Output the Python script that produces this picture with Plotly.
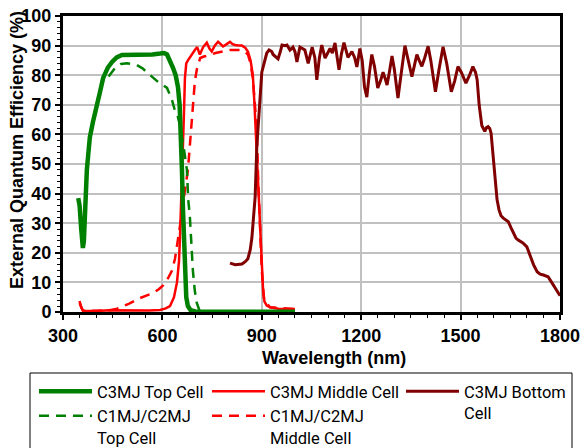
import plotly.graph_objects as go

# ---------------- data ----------------
top_c3_x = [346, 350, 355, 360, 363, 367, 372, 376, 381, 390, 397, 403, 412, 421, 435, 448, 462, 478, 500,
            541, 570, 593, 605, 614, 625, 632, 640, 647, 652, 656, 659, 662, 665, 668, 672, 677, 685, 700,
            750, 850, 1000]
top_c3_y = [38.5, 36, 28, 21.6, 24, 37, 48, 53, 59, 64, 67, 71, 74.5, 79, 82.5, 84.5, 86, 86.8, 86.8,
            86.8, 87, 87.3, 87.5, 87, 84.5, 82.5, 80, 76, 70, 61.5, 48, 35, 22, 12, 5, 2, 0.6, 0.2,
            0.1, 0.1, 0.1]

top_c1_x = [380, 390, 403, 412, 421, 437, 457, 475, 493, 510, 523, 540, 553, 570, 587, 600, 614, 629, 638,
            644, 653, 665, 674, 678, 683, 688, 692, 698, 704, 712, 750, 850, 1000]
top_c1_y = [58, 64, 71, 74.5, 78, 79.5, 82.4, 83.8, 84, 83.8, 83.4, 82.3, 81, 79.5, 77.7, 76.8, 75.7, 71.6, 68,
            67.2, 63, 55, 48, 38, 32, 22, 14, 7, 3, 0.5, 0.1, 0.1, 0.1]

mid_c3_x = [350, 355, 361, 400, 440, 480, 520, 560, 593, 610, 623, 635, 644, 650, 653, 657, 660, 663, 665,
            668, 672, 677, 688, 698, 705, 713, 723, 734, 742, 749, 758, 768, 776, 783, 794, 804, 812, 819,
            830, 840, 850, 858, 866, 873, 878, 882, 886, 889, 893, 897, 900, 904, 908, 915, 925, 950, 1000]
mid_c3_y = [3.7, 1.5, 0.3, 0.3, 0.6, 0.5, 0.4, 0.5, 0.7, 1.2, 2, 5, 10, 17, 25, 37, 48, 60, 67,
            79, 84, 85, 87, 88.5, 89.5, 87, 89.5, 91, 89, 88, 90, 91.3, 90.5, 89.7, 90.5, 91.3, 90.5, 90.2,
            90, 90, 89.3, 88, 85, 80, 70, 60, 50, 42, 33, 22, 14, 7, 3.5, 2.2, 1.6, 1.1, 1.0]

mid_c1_x = [350, 360, 400, 440, 460, 480, 500, 532, 550, 572, 590, 602, 615, 629, 638, 644, 653, 660, 668,
            677, 682, 686, 693, 698, 704, 714, 725, 744, 760, 774, 790, 804, 820, 834, 848, 858, 866, 873,
            880, 885, 889, 895, 900, 907, 925, 1000]
mid_c1_y = [3.0, 0.5, 0.4, 0.6, 1.0, 1.8, 2.8, 4.7, 5.5, 6.4, 7.8, 9, 11, 14, 18, 22, 29, 35, 41,
            48, 55, 61.5, 72.6, 78, 82, 85.8, 86.3, 86.8, 87.5, 87.8, 88.3, 88.5, 88.5, 88.5, 88, 87, 84, 79,
            69, 61, 45, 31, 14, 4, 1.6, 1.0]

bot_c3_x = [804, 820, 840, 850, 858, 865, 870, 875, 880, 885, 890, 895, 900, 904, 910, 915, 922, 930, 934,
            940, 949, 956, 961, 970, 976, 985, 994, 1000, 1006, 1015, 1024, 1030, 1040, 1052, 1060, 1066,
            1074, 1081, 1091, 1098, 1106, 1113, 1121, 1133, 1140, 1148, 1160, 1166, 1172, 1180, 1187, 1196,
            1203, 1210, 1217, 1225, 1232, 1240, 1250, 1258, 1266, 1272, 1278, 1285, 1293, 1300, 1311, 1320,
            1332, 1342, 1353, 1360, 1368, 1375, 1383, 1392, 1402, 1410, 1424, 1435, 1447, 1458, 1472, 1482,
            1492, 1502, 1516, 1527, 1537, 1545, 1550, 1556, 1560, 1564, 1573, 1578, 1583, 1588, 1592, 1598,
            1604, 1610, 1616, 1622, 1629, 1637, 1644, 1652, 1659, 1667, 1674, 1688, 1700, 1710, 1720, 1731,
            1740, 1750, 1764, 1772, 1779, 1787, 1795, 1800]
bot_c3_y = [16.5, 16, 16.2, 17, 18, 21, 25, 31, 39, 56, 66, 72.6, 81, 83, 86, 87.5, 88.5, 88, 87,
            86.5, 85.5, 88, 90.2, 90, 90.2, 88.5, 89.5, 88, 84.5, 89.5, 89, 88.5, 84, 89.5, 86, 78.4,
            86, 90.2, 85.8, 87.5, 89, 87.5, 90.9, 81.8, 87, 91, 86, 87, 88, 86, 82.8, 89,
            85, 76, 72.6, 81, 87, 83, 75.7, 78, 81, 79, 76.7, 81, 86.5, 82, 72.3, 80,
            90, 85, 79.5, 83, 87, 85, 83, 86, 89.8, 85, 74.4, 82, 89.6, 84, 74.4, 78,
            82.9, 81, 77.3, 80, 82.9, 81, 78.4, 70, 66, 63, 61, 62.3, 62.6, 62, 60.4, 52,
            44.6, 38, 34.5, 32.5, 31.7, 31.2, 30.5, 28.5, 26.7, 25, 24.3, 23.3, 22, 18.6, 16, 13.6,
            12.8, 12.5, 11.9, 10.5, 9.1, 7.8, 6.4, 5.5]

x_ticks = [300, 600, 900, 1200, 1500, 1800]
y_ticks = [0, 10, 20, 30, 40, 50, 60, 70, 80, 90, 100]

GREEN = "#008000"
RED = "#FF0000"
DARKRED = "#800000"
LEG_FONT = dict(family="Roboto, Liberation Sans, Arial", size=16.5, color="black")
BOLD = dict(family="Liberation Sans, Arial", size=18, color="black", weight="bold")

fig = go.Figure()
fig.add_trace(go.Scatter(x=mid_c1_x, y=mid_c1_y, mode="lines", name="C1MJ/C2MJ<br>Middle Cell",
                         line=dict(color=RED, width=2.5, dash="10px,7px"), legend="legend2", legendrank=2))
fig.add_trace(go.Scatter(x=mid_c3_x, y=mid_c3_y, mode="lines", name="C3MJ Middle Cell",
                         line=dict(color=RED, width=2.5), legend="legend2", legendrank=1))
fig.add_trace(go.Scatter(x=bot_c3_x, y=bot_c3_y, mode="lines", name="C3MJ Bottom<br>Cell",
                         line=dict(color=DARKRED, width=3), legend="legend3", legendrank=1))
fig.add_trace(go.Scatter(x=top_c1_x, y=top_c1_y, mode="lines", name="C1MJ/C2MJ<br>Top Cell",
                         line=dict(color=GREEN, width=2.5, dash="10px,7px"), legend="legend", legendrank=2))
fig.add_trace(go.Scatter(x=top_c3_x, y=top_c3_y, mode="lines", name="C3MJ Top Cell",
                         line=dict(color=GREEN, width=4.5), legend="legend", legendrank=1))

axis_common = dict(
    showgrid=True, gridcolor="#c0c0c0", gridwidth=1.5,
    showline=True, linecolor="black", linewidth=3, mirror=True,
    ticks="outside", ticklen=5, tickwidth=1.5, tickcolor="black",
    tickfont=BOLD,
    zeroline=False, layer="below traces",
)

fig.update_xaxes(range=[300, 1800], tickvals=x_ticks, ticktext=[str(v) for v in x_ticks],
                 minor=dict(dtick=50, tick0=300, ticks="outside", ticklen=3, tickwidth=1, tickcolor="black",
                            showgrid=False),
                 **axis_common)
fig.update_yaxes(range=[0, 100], tickvals=y_ticks, ticktext=[str(v) for v in y_ticks],
                 minor=dict(dtick=2, tick0=0, ticks="outside", ticklen=3, tickwidth=1, tickcolor="black",
                            showgrid=False),
                 **axis_common)

W, H = 587, 448
L, R, T, B = 63, 27, 16, 136
pw, ph = W - L - R, H - T - B

def px_x(p):
    return (p - L) / pw

def px_y(p):
    return (H - B - p) / ph

leg_common = dict(orientation="v", bgcolor="rgba(0,0,0,0)", borderwidth=0, font=LEG_FONT,
                  itemwidth=53, valign="top", xanchor="left", yanchor="top", tracegroupgap=0)

fig.update_layout(
    width=W, height=H,
    margin=dict(l=L, r=R, t=T, b=B, autoexpand=False),
    paper_bgcolor="white", plot_bgcolor="white",
    showlegend=True,
    legend=dict(x=px_x(34), y=px_y(374), **leg_common),
    legend2=dict(x=px_x(207), y=px_y(374), **leg_common),
    legend3=dict(x=px_x(401), y=px_y(374), **leg_common),
    annotations=[
        dict(text="External Quantum Efficiency (%)", textangle=-90, xref="paper", yref="paper",
             x=px_x(17), y=px_y(150), xanchor="center", yanchor="middle", showarrow=False, font=BOLD),
        dict(text="Wavelength (nm)", xref="paper", yref="paper",
             x=px_x(334), y=px_y(358), xanchor="center", yanchor="middle", showarrow=False, font=BOLD),
    ],
    shapes=[
        dict(type="rect", xref="paper", yref="paper", x0=px_x(30), x1=px_x(572), y0=px_y(373), y1=px_y(470),
             line=dict(color="black", width=1), fillcolor="rgba(0,0,0,0)", layer="below"),
    ],
)

fig.write_html("out.html", config={"displayModeBar": False},
               post_script="document.body.style.margin='0';document.body.style.overflow='hidden';")
